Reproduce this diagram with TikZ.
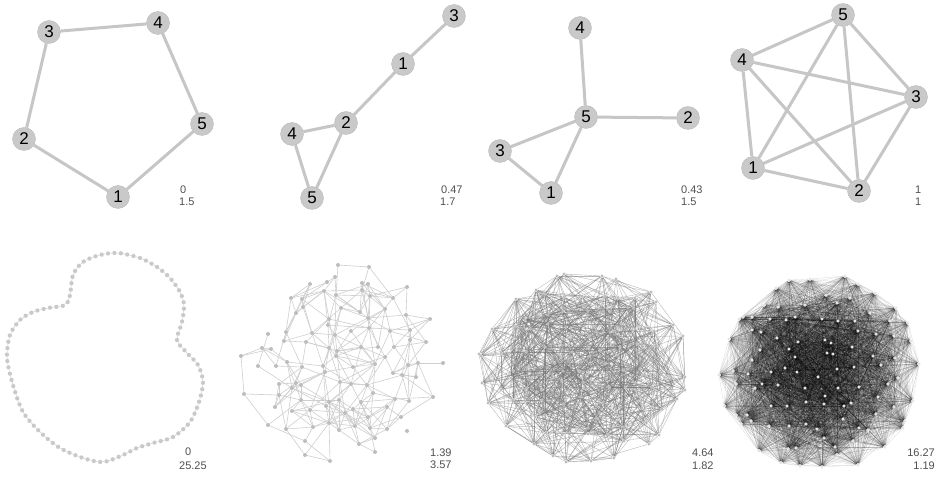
\documentclass[tikz,border=0pt]{standalone}
\usepackage{fontspec}
\setmainfont{Liberation Sans}
\usetikzlibrary{decorations.markings}
\definecolor{vfill}{HTML}{C9C9C9}
\definecolor{vline}{HTML}{C6C6C6}
\definecolor{txt}{HTML}{505050}
\definecolor{dotg}{HTML}{BDBDBD}
\definecolor{dotw}{HTML}{E4E4E4}
\pgfdeclarelayer{paper}
\pgfdeclarelayer{edges}
\pgfsetlayers{paper,edges,main}

\newcount\nodecnt
\newcount\cj
\newcount\dd

% one node at offset (\ux,\uy) from the panel centre, unless it falls in the cut corner
\newcommand\trynode[5]{%
  \ifnum\numexpr\ux+\uy\relax>-#5\relax
    \global\advance\nodecnt by 1
    \edef\nid{\the\nodecnt}%
    \expandafter\xdef\csname X#1-\nid\endcsname{\the\numexpr#2+\ux\relax}%
    \expandafter\xdef\csname Y#1-\nid\endcsname{\the\numexpr#3+\uy\relax}%
    \node[#4] (#1-\nid) at (\csname X#1-\nid\endcsname,\csname Y#1-\nid\endcsname) {};%
  \fi}

% prefix, cx, cy, rx, ry, grid step, style, rim nodes, cut
\newcommand\mknodes[9]{%
  \global\nodecnt=0
  \foreach \k in {1,...,#8}{%
    \pgfmathsetmacro\ang{360*\k/#8+8*rand}%
    \pgfmathsetmacro\rf{0.96+0.04*rand}%
    \pgfmathtruncatemacro\ux{round(#4*\rf*cos(\ang))}%
    \pgfmathtruncatemacro\uy{round(#5*\rf*sin(\ang))}%
    \trynode{#1}{#2}{#3}{#7}{#9}}%
  \foreach \gi in {-8,...,8}{\foreach \gj in {-8,...,8}{%
    \pgfmathtruncatemacro\ux{round(\gi*#6+0.4*#6*rand)}%
    \pgfmathtruncatemacro\uy{round(\gj*#6+0.4*#6*rand)}%
    \ifnum\numexpr100*\ux*\ux/#4*100/#4+100*\uy*\uy/#5*100/#5\relax<7400
      \trynode{#1}{#2}{#3}{#7}{#9}%
    \fi}}%
  \expandafter\xdef\csname N#1\endcsname{\the\nodecnt}}

% prefix, radius, percent kept, style
\newcommand\mkedges[4]{%
  \pgfmathtruncatemacro\nlast{\csname N#1\endcsname-1}%
  \foreach \i in {1,...,\nlast}{%
    \cj=\i \advance\cj by 1
    \loop
      \dd=\numexpr(\csname X#1-\i\endcsname-\csname X#1-\the\cj\endcsname)*(\csname X#1-\i\endcsname-\csname X#1-\the\cj\endcsname)+(\csname Y#1-\i\endcsname-\csname Y#1-\the\cj\endcsname)*(\csname Y#1-\i\endcsname-\csname Y#1-\the\cj\endcsname)\relax
      \ifnum\dd<\numexpr#2*#2\relax
        \pgfmathrandominteger{\rr}{0}{99}%
        \ifnum\rr<#3 \draw[#4] (#1-\i) -- (#1-\the\cj);\fi
      \fi
      \advance\cj by 1
    \ifnum\cj<\numexpr\csname N#1\endcsname+1\relax\repeat}}

\begin{document}
\begin{tikzpicture}[x=1pt,y=-1pt,
  vtx/.style={circle,fill=vfill,draw=vline!90!black,line width=0.3pt,minimum size=23pt,
              inner sep=0pt,font=\fontsize{17}{17}\selectfont},
  tedge/.style={draw=vline,line width=3pt},
  stat/.style={anchor=west,inner sep=0pt,text=txt,font=\fontsize{11}{11}\selectfont},
  ringdot/.style={circle,fill=vfill,inner sep=0pt,minimum size=4.3pt},
  ringedge/.style={draw=vline,line width=0.4pt},
  sdot/.style={circle,fill=dotg,inner sep=0pt,minimum size=4pt},
  mdot/.style={circle,fill=dotg,inner sep=0pt,minimum size=3.4pt},
  ddot/.style={circle,fill=dotw,inner sep=0pt,minimum size=3.4pt},
  sedge/.style={draw=vline!85,line width=0.6pt},
  medge/.style={draw=black!55,line width=0.4pt,opacity=0.5},
  dedge/.style={draw=black,line width=0.4pt,opacity=0.12}]
\begin{pgfonlayer}{paper}
\useasboundingbox[fill=white] (0,0) rectangle (937,478);
\end{pgfonlayer}
\pgfmathsetseed{7}

% top row: the four small graphs
\node[vtx] (a1) at (118,197) {1};
\node[vtx] (a2) at (24,139) {2};
\node[vtx] (a3) at (49,32) {3};
\node[vtx] (a4) at (158,23) {4};
\node[vtx] (a5) at (202,124) {5};
\node[vtx] (b1) at (403,64) {1};
\node[vtx] (b2) at (346,123) {2};
\node[vtx] (b3) at (454,16) {3};
\node[vtx] (b4) at (292,134) {4};
\node[vtx] (b5) at (312,198) {5};
\node[vtx] (c1) at (551,193) {1};
\node[vtx] (c2) at (688,118) {2};
\node[vtx] (c3) at (500,151) {3};
\node[vtx] (c4) at (580,28) {4};
\node[vtx] (c5) at (586,117) {5};
\node[vtx] (d1) at (753,168) {1};
\node[vtx] (d2) at (859,191) {2};
\node[vtx] (d3) at (916,97) {3};
\node[vtx] (d4) at (742,60) {4};
\node[vtx] (d5) at (843,15) {5};

% bottom row: ring, then three random graphs
\path[decorate,decoration={markings,mark=between positions 0 and 0.995 step 0.01 with
  {\node[ringdot] (r\pgfkeysvalueof{/pgf/decoration/mark info/sequence number}) {};}}]
  plot[smooth cycle] coordinates {(118,253) (140,258) (157,267) (170,278) (180,292) (184,305)
  (182,322) (177,340) (187,353) (198,365) (203,382) (199,402) (190,422) (173,437) (153,443)
  (137,448) (123,455) (103,462) (83,458) (60,448) (40,432) (23,412) (13,385) (7,358) (10,335)
  (20,320) (33,312) (48,308) (65,305) (70,295) (73,275) (83,262) (100,255)};
\mknodes{p}{340}{362}{103}{100}{16.5}{sdot}{16}{115}
\mknodes{q}{585}{367}{107}{97}{18}{mdot}{26}{1000}
\mknodes{w}{820}{372}{103}{101}{18}{ddot}{26}{1000}

\begin{pgfonlayer}{edges}
\foreach \u/\v in {1/2,2/3,3/4,4/5,5/1} \draw[tedge] (a\u) -- (a\v);
\foreach \u/\v in {3/1,1/2,2/4,2/5,4/5} \draw[tedge] (b\u) -- (b\v);
\foreach \u/\v in {4/5,5/2,5/3,5/1,3/1} \draw[tedge] (c\u) -- (c\v);
\foreach \u/\v in {1/2,1/3,1/4,1/5,2/3,2/4,2/5,3/4,3/5,4/5} \draw[tedge] (d\u) -- (d\v);
\foreach \k in {1,...,100}{\pgfmathtruncatemacro\kn{mod(\k,100)+1}\draw[ringedge] (r\k) -- (r\kn);}
\mkedges{p}{42}{42}{sedge}
\mkedges{q}{95}{45}{medge}
\mkedges{w}{165}{85}{dedge}
\end{pgfonlayer}

% the two numbers under each graph
\node[stat] (ta1) at (180,190) {0};
\node[stat] (ta2) at (179,202) {1.5};
\node[stat] (tb1) at (441,190) {0.47};
\node[stat] (tb2) at (440,202) {1.7};
\node[stat] (tc1) at (681,190) {0.43};
\node[stat] (tc2) at (681,202) {1.5};
\node[stat] (td1) at (915,190) {1};
\node[stat] (td2) at (915,202) {1};
\node[stat] (ba1) at (185,452) {0};
\node[stat] (ba2) at (179,466) {25.25};
\node[stat] (bb1) at (430,453) {1.39};
\node[stat] (bb2) at (430,465) {3.57};
\node[stat] (bc1) at (692,453) {4.64};
\node[stat] (bc2) at (692,466) {1.82};
\node[stat,anchor=east] (bd1) at (935,453) {16.27};
\node[stat,anchor=east] (bd2) at (935,466) {1.19};
\end{tikzpicture}
\end{document}
